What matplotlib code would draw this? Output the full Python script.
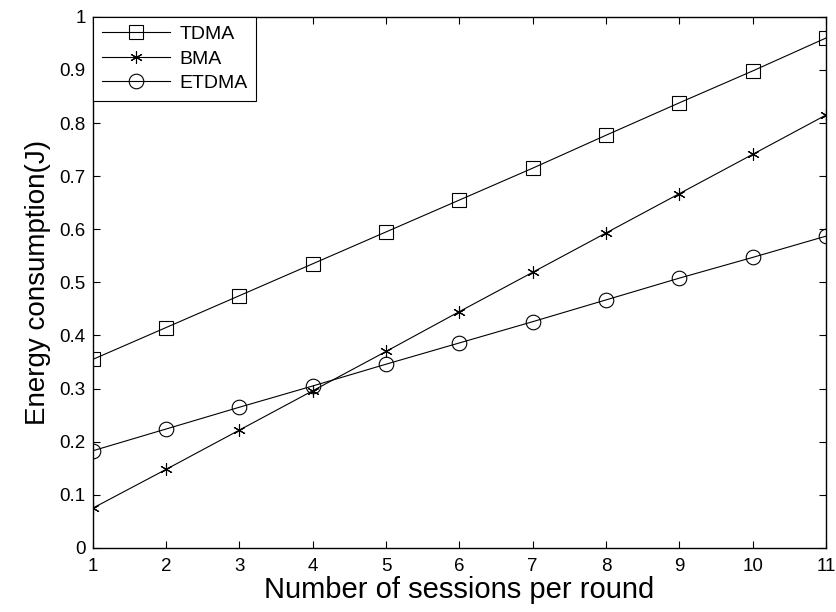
import matplotlib
matplotlib.use("Agg")
import matplotlib.pyplot as plt

plt.rcParams['font.family'] = ['Liberation Sans', 'DejaVu Sans']

sessions = [1, 2, 3, 4, 5, 6, 7, 8, 9, 10, 11]
tdma = [0.355, 0.415, 0.475, 0.535, 0.595, 0.655, 0.715, 0.777, 0.838, 0.898, 0.960]
bma = [0.075, 0.148, 0.222, 0.296, 0.370, 0.445, 0.519, 0.593, 0.667, 0.741, 0.815]
etdma = [0.183, 0.224, 0.265, 0.305, 0.346, 0.386, 0.426, 0.467, 0.508, 0.547, 0.587]
yticks = [0, 0.1, 0.2, 0.3, 0.4, 0.5, 0.6, 0.7, 0.8, 0.9, 1]
ytick_labels = ['0', '0.1', '0.2', '0.3', '0.4', '0.5', '0.6', '0.7', '0.8', '0.9', '1']

fig = plt.figure(figsize=(8.36, 6.12), dpi=100)
ax = fig.add_axes([0.111, 0.1046, 0.877, 0.868])

# MATLAB-style asterisk: 6-armed line star
asterisk = (6, 2, 0)

ax.plot(sessions, tdma, 'k-', marker='s', markersize=10, markerfacecolor='none',
        markeredgewidth=0.8, linewidth=0.8, label='TDMA')
ax.plot(sessions, bma, 'k-', marker=asterisk, markersize=9, markerfacecolor='none',
        markeredgewidth=0.8, linewidth=0.8, label='BMA')
ax.plot(sessions, etdma, 'k-', marker='o', markersize=10.5, markerfacecolor='none',
        markeredgewidth=0.8, linewidth=0.8, label='ETDMA')

ax.set_xlim(1, 11)
ax.set_ylim(0, 1)
ax.set_xticks(sessions)
ax.set_yticks(yticks)
ax.set_yticklabels(ytick_labels)
ax.tick_params(direction='in', top=True, right=True, labelsize=13.5, length=5)
ax.tick_params(axis='x', pad=7)
ax.tick_params(axis='y', pad=5)
for s in ax.spines.values():
    s.set_linewidth(1.0)

ax.set_xlabel("Number of sessions per round", fontsize=21, labelpad=1)
ax.set_ylabel("Energy consumption(J)", fontsize=20, labelpad=6)

leg = ax.legend(loc='upper left', fontsize=14, fancybox=False, framealpha=1,
                edgecolor='black', borderaxespad=0.0, handlelength=3.5,
                borderpad=0.45, labelspacing=0.35, handletextpad=0.5)
leg.get_frame().set_linewidth(0.8)

fig.savefig("out.png", dpi=100)
